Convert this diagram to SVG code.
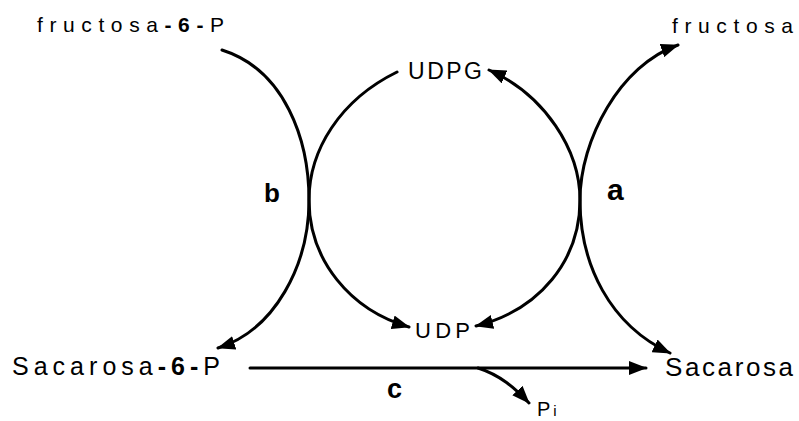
<svg xmlns="http://www.w3.org/2000/svg" width="799" height="421" viewBox="0 0 799 421">
<defs>
<style>
.ln{fill:none;stroke:#000;stroke-width:3;stroke-linecap:round}
.lbl{font-family:"Liberation Sans",Arial,sans-serif;fill:#000}
.bold{font-weight:bold}
</style>
<marker id="ah" viewBox="0 0 18 14" refX="17" refY="7" markerWidth="18" markerHeight="14" markerUnits="userSpaceOnUse" orient="auto-start-reverse">
<path d="M0,0 L18,7 L0,14 Z" fill="#000"/>
</marker>
</defs>
<rect width="799" height="421" fill="#fff"/>
<g id="connectors">
<path class="ln" d="M222,50 C285,70 309,140 309,200 C309,265 275,330 218,348" marker-end="url(#ah)"/>
<path class="ln" d="M397,72 C340,100 309,150 309,200 C309,260 350,310 409,327" marker-end="url(#ah)"/>
<path class="ln" d="M489,70 C545,95 580,150 580,200 C580,260 540,310 476,326" marker-start="url(#ah)" marker-end="url(#ah)"/>
<path class="ln" d="M678,45 C620,65 580,140 580,200 C580,265 610,325 670,353" marker-start="url(#ah)" marker-end="url(#ah)"/>
<path class="ln" d="M250,368 L646,368" marker-end="url(#ah)"/>
<path class="ln" d="M478,368 C500,375 515,388 529,403" marker-end="url(#ah)"/>
</g>
<g id="fructosa-6-P"><text class="lbl" x="37" y="32" font-size="21" textLength="187" lengthAdjust="spacing">fructosa<tspan class="bold">-6-</tspan>P</text></g>
<g id="fructosa"><text class="lbl" x="672" y="33" font-size="21" textLength="121" lengthAdjust="spacing">fructosa</text></g>
<g id="UDPG"><text class="lbl" x="408" y="79" font-size="23" textLength="74" lengthAdjust="spacing">UDPG</text></g>
<g id="UDP"><text class="lbl" x="415" y="338" font-size="22" textLength="55" lengthAdjust="spacing">UDP</text></g>
<g id="Sacarosa-6-P"><text class="lbl" x="12" y="375" font-size="25" textLength="208" lengthAdjust="spacing">Sacarosa<tspan class="bold">-6-</tspan>P</text></g>
<g id="Sacarosa"><text class="lbl" x="665" y="376" font-size="26" textLength="128" lengthAdjust="spacing">Sacarosa</text></g>
<g id="Pi"><text class="lbl" x="537" y="416" font-size="20">P<tspan font-size="15" dx="3">i</tspan></text></g>
<g id="label-a"><text class="lbl bold" x="607" y="200" font-size="30">a</text></g>
<g id="label-b"><text class="lbl bold" x="264" y="202" font-size="26">b</text></g>
<g id="label-c"><text class="lbl bold" x="387" y="398" font-size="27">c</text></g>
</svg>
